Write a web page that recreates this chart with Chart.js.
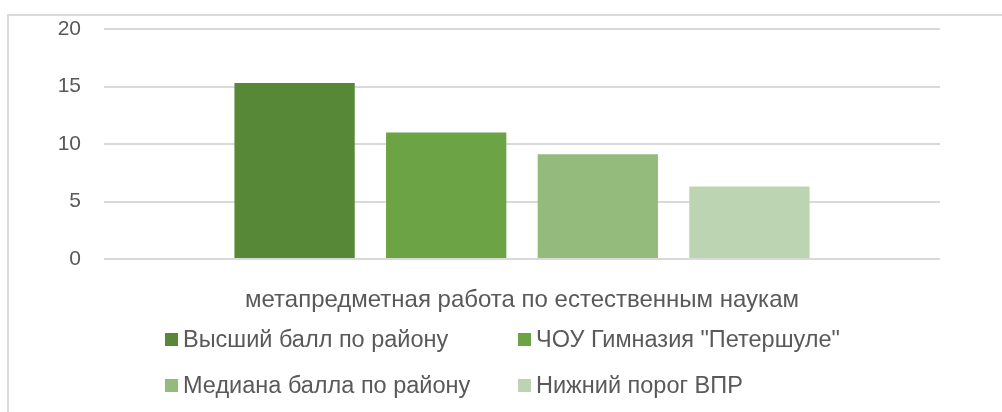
<!DOCTYPE html>
<html>
<head>
<meta charset="utf-8">
<script src="https://cdn.jsdelivr.net/npm/chart.js@4.4.1/dist/chart.umd.min.js"></script>
<style>
  html, body { margin: 0; padding: 0; background: #fff; }
  body { position: relative; width: 1002px; height: 412px; overflow: hidden; }
  .frame { position: absolute; left: 7px; top: 14px; width: 1100px; height: 500px; border: 2px solid #d9d9d9; }
  .chart-box { position: absolute; left: 0; top: 0; width: 1002px; height: 318px; }
  #legend { position: absolute; left: 165px; top: 316px; display: grid; grid-template-columns: 353px auto; }
  #legend .item { height: 46px; display: flex; align-items: center; white-space: nowrap; }
  #legend .swatch { width: 13px; height: 13px; margin-right: 5px; flex: none; }
  #legend .label { font-family: "Liberation Sans", Arial, sans-serif; font-size: 23.5px; color: #595959; }
</style>
</head>
<body>
<div class="frame"></div>
<div class="chart-box"><canvas id="barChart"></canvas></div>
<div id="legend"></div>
<script>
const categories = ["метапредметная работа по естественным наукам"];
const seriesNames = ["Высший балл по району", "ЧОУ Гимназия \"Петершуле\"", "Медиана балла по району", "Нижний порог ВПР"];
const seriesValues = [[15.3], [11], [9.1], [6.3]];
const seriesColors = ["#578838", "#6ba345", "#94bb7c", "#bdd4b2"];
const yTicks = [0, 5, 10, 15, 20];

const grey = "#595959";

// builds the two-column legend under the canvas
const htmlLegend = {
  id: "htmlLegend",
  afterUpdate(chart) {
    const box = document.getElementById("legend");
    box.innerHTML = "";
    const items = chart.options.plugins.legend.labels.generateLabels(chart);
    items.forEach((it) => {
      const item = document.createElement("div");
      item.className = "item";
      const swatch = document.createElement("span");
      swatch.className = "swatch";
      swatch.style.background = it.fillStyle;
      const label = document.createElement("span");
      label.className = "label";
      label.textContent = it.text;
      item.appendChild(swatch);
      item.appendChild(label);
      box.appendChild(item);
    });
  },
};

const ctx = document.getElementById("barChart").getContext("2d");
const barChart = new Chart(ctx, {
  type: "bar",
  data: {
    labels: categories,
    datasets: seriesNames.map((name, i) => ({
      label: name,
      data: seriesValues[i],
      backgroundColor: seriesColors[i],
      borderWidth: 0,
    })),
  },
  options: {
    responsive: true,
    maintainAspectRatio: false,
    animation: false,
    categoryPercentage: 0.7254,
    barPercentage: 0.7935,
    layout: { autoPadding: false, padding: { left: 58, right: 62, top: 29, bottom: 0 } },
    scales: {
      x: {
        grid: { display: false },
        border: { display: false },
        afterFit(scale) {
          scale.height = 59;
          scale.paddingLeft = 0;
          scale.paddingRight = 0;
        },
        ticks: {
          color: grey,
          padding: 19,
          font: { family: "'Liberation Sans', Arial, sans-serif", size: 24 },
        },
      },
      y: {
        min: 0,
        max: 20,
        afterBuildTicks(scale) {
          scale.ticks = yTicks.map((v) => ({ value: v }));
        },
        afterFit(scale) {
          scale.width = 46;
          scale.paddingTop = 0;
          scale.paddingBottom = 0;
        },
        grid: { color: "#d9d9d9", lineWidth: 2, drawTicks: false },
        border: { display: false },
        ticks: {
          color: grey,
          padding: 23,
          font: { family: "'Liberation Sans', Arial, sans-serif", size: 21 },
        },
      },
    },
    plugins: {
      legend: { display: false },
      tooltip: { enabled: false },
    },
  },
  plugins: [htmlLegend],
});
</script>
</body>
</html>
